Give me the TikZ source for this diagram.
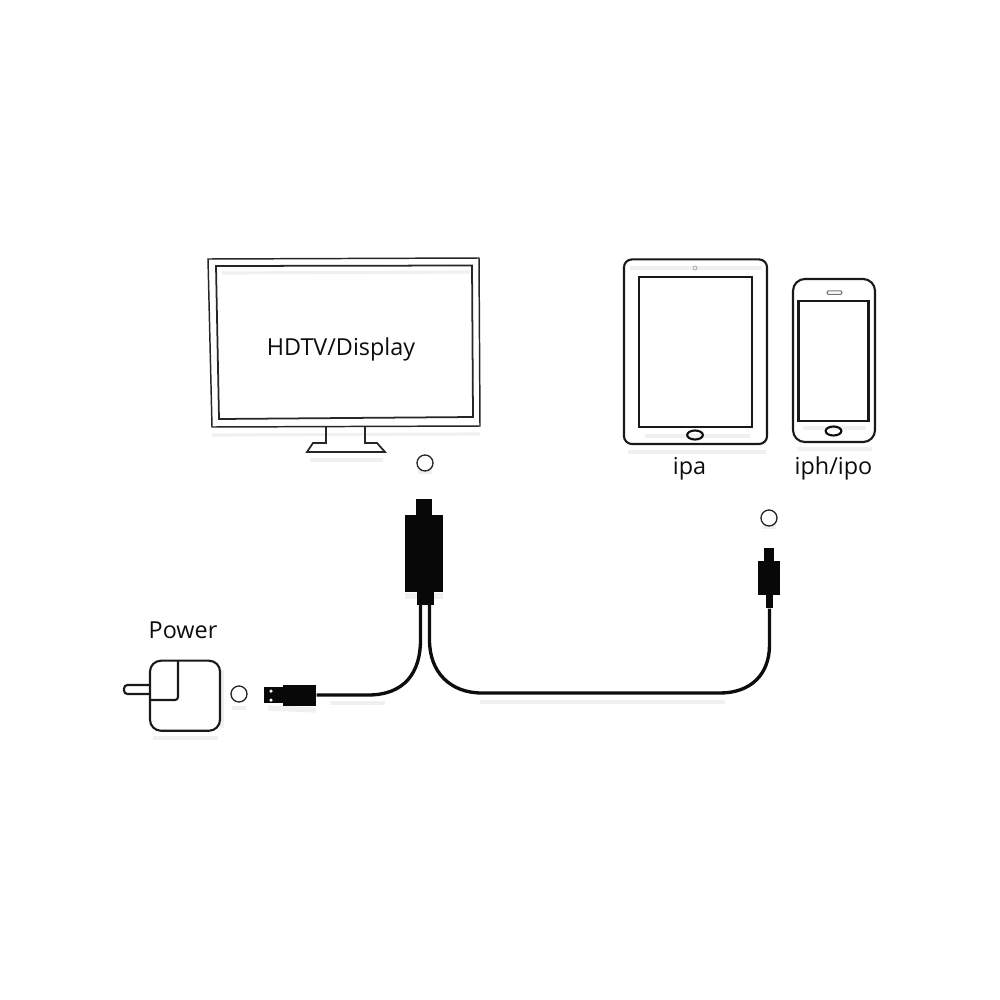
\documentclass[tikz,border=0pt]{standalone}
\usepackage{fontspec}
\setmainfont{Open Sans}
\usetikzlibrary{positioning}

\tikzset{
    thinline/.style={draw=black!85, line width=0.42pt},
    devline/.style={draw=black!90, line width=0.6pt},
    faint/.style={draw=black!6, line width=0.9pt},
    plug/.style={rectangle, fill=black!97, draw=none, inner sep=0pt},
    ring/.style={circle, draw=black!85, line width=0.38pt, minimum size=0.16cm, inner sep=0pt},
    cable/.style={draw=black!95, line width=0.95pt},
    caption/.style={inner sep=0pt, text=black!95, font=\fontsize{6.65}{8}\selectfont},
}

\begin{document}
\begin{tikzpicture}[x=0.01cm, y=-0.01cm]
    \useasboundingbox (0,0) rectangle (1000,1000);

    % Sombras
    \draw[faint] (212,435) -- (480,434);
    \draw[faint] (222,273) -- (470,272);
    \draw[faint] (310,460) -- (383,460);
    \draw[faint] (630,268) -- (762,268);
    \draw[faint] (628,452) -- (766,452);
    \draw[faint] (645,436) -- (750,436);
    \draw[faint] (798,449) -- (872,449);
    \draw[faint] (803,428) -- (866,428);
    \draw[faint] (153,738) -- (218,738);
    \draw[faint] (222,670) -- (222,728);
    \draw[faint] (232,708) -- (246,708);
    \draw[faint] (418,472) -- (432,472);
    \draw[faint] (762,527) -- (776,527);
    \draw[faint, line width=1.1pt] (330,703) -- (385,703);
    \draw[faint, line width=1.1pt] (480,702) -- (725,702);
    \draw[faint, line width=1.5pt] (268,708) -- (316,710);
    \draw[faint, line width=1.5pt] (405,596) -- (443,596);

    % Monitor
    \draw[thinline] (208,259) -- (479,258) -- (480,426) -- (212,427) -- cycle;
    \draw[thinline, line width=0.5pt] (216,266) -- (472,265.5) -- (473,417) -- (219,419) -- cycle;
    \draw[thinline, line width=0.5pt] (326,427) -- (326,443) -- (313,443) -- (307,452) -- (385,452) -- (377,443) -- (365,443) -- (365,426);
    \node[caption] (hdtv) at (341,349) {HDTV/Display};

    % Tablet
    \node[devline, rectangle, rounded corners=0.08cm, minimum width=1.43cm, minimum height=1.845cm, inner sep=0pt] (tablet) at (695.5,351.7) {};
    \node[devline, rectangle, minimum width=1.13cm, minimum height=1.5cm, inner sep=0pt] (tabletscreen) at (695.5,352) {};
    \node[draw=black!95, line width=0.6pt, circle, minimum size=0.09cm, xscale=1.75, inner sep=0pt] (tablethome) at (695,435) {};
    \node[draw=black!30, line width=0.25pt, circle, minimum size=0.04cm, inner sep=0pt] (tabletcam) at (695,268) {};
    \node[caption] (ipa) at (689.5,469) {ipa};

    % Telefone
    \node[devline, rectangle, rounded corners=0.12cm, minimum width=0.82cm, minimum height=1.63cm, inner sep=0pt] (phone) at (834,360.5) {};
    \node[devline, rectangle, minimum width=0.7cm, minimum height=1.2cm, inner sep=0pt] (phonescreen) at (833.5,361) {};
    \node[draw=black!55, line width=0.3pt, rectangle, rounded corners=0.01cm, minimum width=0.145cm, minimum height=0.035cm, inner sep=0pt] (phonespeaker) at (834.5,292.7) {};
    \node[draw=black!95, line width=0.6pt, circle, minimum size=0.09cm, xscale=1.75, inner sep=0pt] (phonehome) at (833.5,431) {};
    \node[caption] (iph) at (833.5,468) {iph/ipo};

    % Carregador
    \node[caption] (power) at (183,630) {Power};
    \draw[devline, rounded corners=0.035cm] (150,685) -- (124,685) -- (124,694) -- (150,694);
    \node[devline, rectangle, rounded corners=0.11cm, minimum width=0.7cm, minimum height=0.7cm, inner sep=0pt, fill=white] (charger) at (185,695.7) {};
    \draw[devline, rounded corners=0.03cm] (178,661) -- (178,700) -- (150,700);

    % Aneis
    \node[ring] (ringpower) at (239,694) {};
    \node[ring] (ringhdmi) at (425,463) {};
    \node[ring] (ringlight) at (769,518) {};

    % USB
    \node[plug, minimum width=0.19cm, minimum height=0.16cm] (usbtip) at (273.5,695) {};
    \node[plug, minimum width=0.33cm, minimum height=0.21cm] (usbbody) at (299.5,695) {};
    \node[fill=white, circle, minimum size=0.035cm, inner sep=0pt] (usbhole1) at (271,691) {};
    \node[fill=white, circle, minimum size=0.035cm, inner sep=0pt] (usbhole2) at (271,700) {};

    % HDMI
    \node[plug, minimum width=0.16cm, minimum height=0.18cm] (hdmitop) at (424,508) {};
    \node[plug, minimum width=0.38cm, minimum height=0.76cm] (hdmibody) at (424,553.5) {};
    \node[plug, minimum width=0.17cm, minimum height=0.14cm] (hdmineck) at (425,597.5) {};
    \coordinate (hdmileft) at (420.5,603);
    \coordinate (hdmiright) at (429.5,603);

    % Lightning
    \node[plug, minimum width=0.10cm, minimum height=0.14cm] (lighttop) at (769,555) {};
    \node[plug, minimum width=0.22cm, minimum height=0.34cm] (lightbody) at (769,578) {};
    \node[plug, minimum width=0.07cm, minimum height=0.13cm] (lightneck) at (769.5,601.5) {};

    % Cabos
    \draw[cable] (usbbody.east) -- (368,695) .. controls (405,695) and (420.5,672) .. (420.5,640) -- (hdmileft);
    \draw[cable] (lightneck.south) -- (769.5,645) .. controls (769.5,675) and (750,693) .. (720,693) -- (482,693) .. controls (450,693) and (429.5,672) .. (429.5,640) -- (hdmiright);
\end{tikzpicture}
\end{document}
